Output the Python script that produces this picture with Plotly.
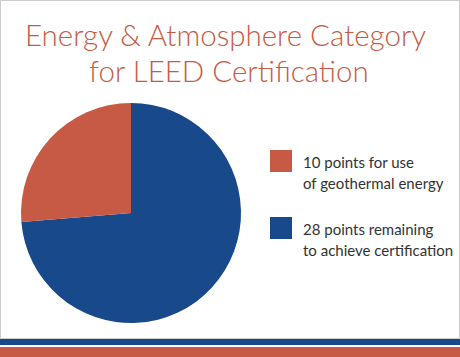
import plotly.graph_objects as go

labels = ["10 points for use<br>of geothermal energy", "28 points remaining<br>to achieve certification"]
values = [10, 28]
colors = ["#c65a45", "#17498b"]
title_lines = ["Energy & Atmosphere Category", "for LEED Certification"]

W, H = 460, 357

def py(y):
    return 1 - y / H

fig = go.Figure()
# drawn clockwise from 12 o'clock in reverse order so the first category
# ends at 12 o'clock (counterclockwise look of the reference)
fig.add_trace(go.Pie(
    labels=labels[::-1], values=values[::-1], sort=False, direction="clockwise", rotation=0,
    marker=dict(colors=colors[::-1], line=dict(width=0)),
    textinfo="none", hoverinfo="label+value", showlegend=False,
    domain=dict(x=[21 / W, 241 / W], y=[py(323), py(103)]),
))

shapes = []
annotations = []
# legend
sq_tops = [150, 217]
for i, (lab, col) in enumerate(zip(labels, colors)):
    t = sq_tops[i]
    shapes.append(dict(type="rect", xref="paper", yref="paper", x0=270 / W, x1=292 / W,
                       y0=py(t + 22), y1=py(t), fillcolor=col, line=dict(width=0)))
    for j, line in enumerate(lab.split("<br>")):
        base = t + 16.7 + j * 21.5
        annotations.append(dict(xref="paper", yref="paper", x=301 / W, y=py(base - 5), xanchor="left",
                                yanchor="middle", text=line, showarrow=False, align="left",
                                font=dict(family="Lato", size=15, color="#333333", weight=400)))
# title
title_centers = [225.5, 228.5]
title_bases = [43, 80]
for line, cx, b in zip(title_lines, title_centers, title_bases):
    annotations.append(dict(xref="paper", yref="paper", x=cx / W, y=py(b - 9), xanchor="center",
                            yanchor="middle", text=line, showarrow=False, align="center",
                            font=dict(family="Lato", size=29.5, color="#c65a45", weight=300)))
# border and stripes
shapes.append(dict(type="rect", xref="paper", yref="paper", x0=0.5 / W, x1=(W - 0.5) / W,
                   y0=py(338.5), y1=py(0.5), line=dict(color="#cccccc", width=1), fillcolor="rgba(0,0,0,0)"))
shapes.append(dict(type="rect", xref="paper", yref="paper", x0=0, x1=1, y0=py(345), y1=py(339),
                   fillcolor="#17498b", line=dict(width=0)))
shapes.append(dict(type="rect", xref="paper", yref="paper", x0=0, x1=1, y0=py(357), y1=py(347),
                   fillcolor="#c65a45", line=dict(width=0)))

fig.update_layout(
    width=W, height=H, margin=dict(l=0, r=0, t=0, b=0),
    paper_bgcolor="white", plot_bgcolor="white",
    shapes=shapes, annotations=annotations,
)
fig.write_html("out.html", config={"displayModeBar": False},
               post_script="document.body.style.margin='0';")
